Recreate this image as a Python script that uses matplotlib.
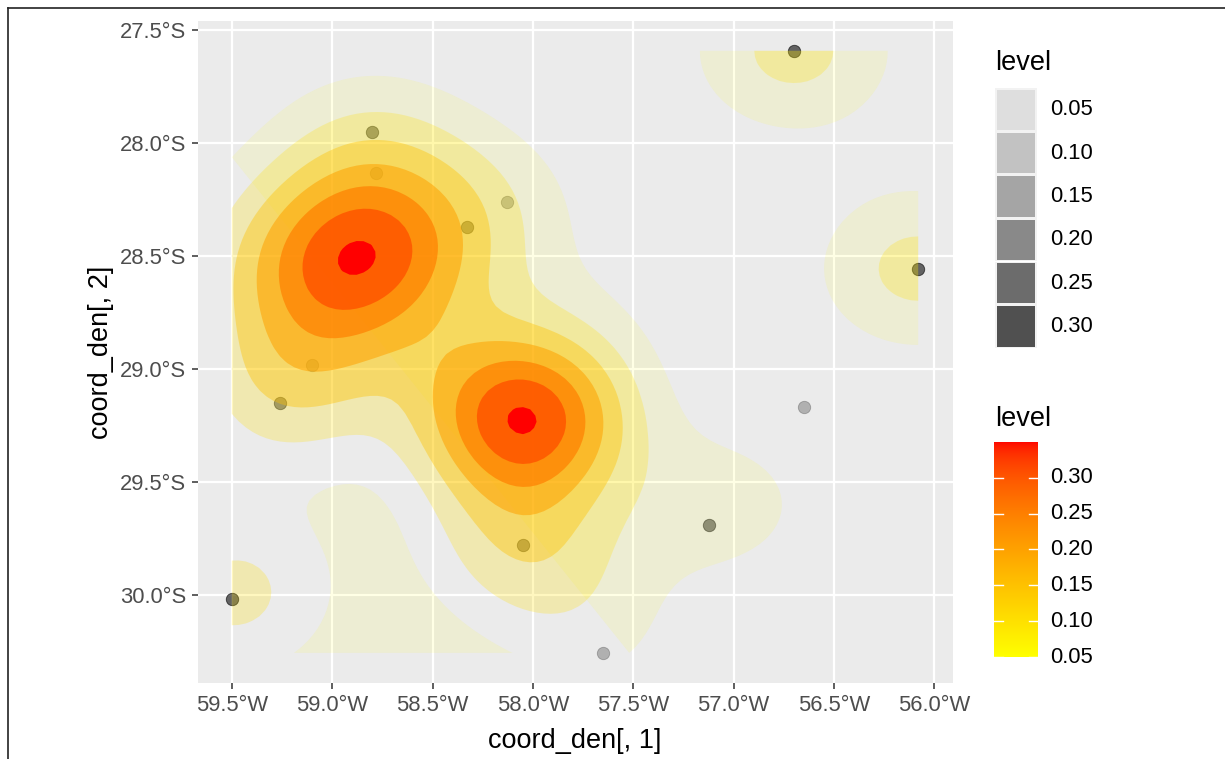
import numpy as np
import matplotlib
matplotlib.use("Agg")
import matplotlib.pyplot as plt
from matplotlib.patches import Rectangle
from matplotlib.lines import Line2D
import contourpy

plt.rcParams['font.family'] = ['Liberation Sans', 'DejaVu Sans']

# ---------------- data ----------------
# plotted sample points (lon, lat, number of overlapping records)
pt_lon = [-56.70, -58.80, -58.78, -58.13, -58.33, -56.08, -59.10, -59.26, -56.65, -57.12, -58.05, -59.50, -57.65]
pt_lat = [-27.59, -27.95, -28.13, -28.26, -28.37, -28.555, -28.98, -29.15, -29.17, -29.69, -29.78, -30.02, -30.257]
pt_n = [3, 2, 1, 1, 2, 3, 1, 2, 1, 2, 2, 3, 1]

# density input coordinates (coord_den) and their record counts
den_lon = [-59.35, -58.88, -58.41, -59.35, -58.88, -58.41, -59.35, -58.88, -58.41,
           -58.80, -58.13, -59.10, -59.26, -59.38, -57.65,
           -58.05, -58.05, -58.05, -58.21, -57.89,
           -58.05, -57.05, -57.70, -56.70, -56.08, -59.50]
den_lat = [-28.18, -28.18, -28.18, -28.50, -28.50, -28.50, -28.82, -28.82, -28.82,
           -27.95, -28.26, -28.98, -29.15, -29.72, -28.75,
           -29.21, -28.98, -29.44, -29.21, -29.21,
           -29.81, -29.60, -30.18, -27.59, -28.555, -30.02]
den_w = [0.15, 1.00, 0.70, 1.00, 4.32, 1.00, 0.70, 1.00, 0.15,
         1.0, 0.6, 0.8, 1.5, 0.3, 0.35,
         5.13, 0.5, 0.8, 0.25, 0.25,
         2.1, 1.3, 0.9, 2.2, 2.2, 2.0]

bandwidth_lon = 1.44   # kde2d-style h (kernel sd = h / 4)
bandwidth_lat = 1.04
levels = [0.05, 0.10, 0.15, 0.20, 0.25, 0.30, 0.35]
legend_breaks = [0.05, 0.10, 0.15, 0.20, 0.25, 0.30]
x_ticks = [-59.5, -59.0, -58.5, -58.0, -57.5, -57.0, -56.5, -56.0]
y_ticks = [-30.0, -29.5, -29.0, -28.5, -28.0, -27.5]

# ---------------- colour helpers (Lab interpolation like ggplot) ----------------
M = np.array([[0.4124564, 0.3575761, 0.1804375],
              [0.2126729, 0.7151522, 0.0721750],
              [0.0193339, 0.1191920, 0.9503041]])
WP = np.array([0.95047, 1.0, 1.08883])


def srgb_to_lab(rgb):
    rgb = np.asarray(rgb, float)
    lin = np.where(rgb <= 0.04045, rgb / 12.92, ((rgb + 0.055) / 1.055) ** 2.4)
    t = (M @ lin) / WP
    d = 6 / 29
    f = np.where(t > d ** 3, np.cbrt(t), t / (3 * d * d) + 4 / 29)
    return np.array([116 * f[1] - 16, 500 * (f[0] - f[1]), 200 * (f[1] - f[2])])


def lab_to_srgb(lab):
    L, a, b = lab
    fy = (L + 16) / 116
    fx = fy + a / 500
    fz = fy - b / 200
    d = 6 / 29
    f = np.array([fx, fy, fz])
    t = np.where(f > d, f ** 3, 3 * d * d * (f - 4 / 29)) * WP
    lin = np.linalg.solve(M, t)
    lin = np.clip(lin, 0, 1)
    rgb = np.where(lin <= 0.0031308, 12.92 * lin, 1.055 * lin ** (1 / 2.4) - 0.055)
    return np.clip(rgb, 0, 1)


LAB_LO = srgb_to_lab([1.0, 1.0, 0.0])
LAB_HI = srgb_to_lab([1.0, 0.0, 0.0])
LO, HI = min(levels), max(levels)


def fill_color(v):
    t = (v - LO) / (HI - LO)
    return tuple(lab_to_srgb(LAB_LO + t * (LAB_HI - LAB_LO)))


def alpha_of(v):
    return float(np.clip(0.1 + 0.9 * (v - LO) / (HI - LO), 0, 1))


# ---------------- density ----------------
all_x = np.concatenate([pt_lon, den_lon])
all_y = np.concatenate([pt_lat, den_lat])
gx = np.linspace(all_x.min(), all_x.max(), 100)
gy = np.linspace(all_y.min(), all_y.max(), 100)
sx, sy = bandwidth_lon / 4, bandwidth_lat / 4
wts = np.array(den_w) / np.sum(den_w)
Z = np.zeros((gy.size, gx.size))
for xi, yi, wi in zip(den_lon, den_lat, wts):
    kx = np.exp(-0.5 * ((gx - xi) / sx) ** 2) / (sx * np.sqrt(2 * np.pi))
    ky = np.exp(-0.5 * ((gy - yi) / sy) ** 2) / (sy * np.sqrt(2 * np.pi))
    Z += wi * ky[:, None] * kx[None, :]

# ---------------- figure ----------------
W, H = 1225, 759
fig = plt.figure(figsize=(W / 100, H / 100), dpi=100)
fig.patch.set_facecolor('white')

xr = all_x.max() - all_x.min()
yr = all_y.max() - all_y.min()
xlim = (all_x.min() - 0.05 * xr, all_x.max() + 0.05 * xr)
ylim = (all_y.min() - 0.05 * yr, all_y.max() + 0.05 * yr)

ax = fig.add_axes([197.5 / W, (H - 683) / H, 755 / W, 662.3 / H])
ax.set_facecolor('#ebebeb')
for s in ax.spines.values():
    s.set_visible(False)
ax.set_xlim(*xlim)
ax.set_ylim(*ylim)
ax.set_xticks(x_ticks)
ax.set_yticks(y_ticks)
ax.set_xticklabels([f"{abs(v):.1f}\u00b0W" for v in x_ticks])
ax.set_yticklabels([f"{abs(v):.1f}\u00b0S" for v in y_ticks])
ax.grid(True, color='white', linewidth=1.65, zorder=0)
ax.set_axisbelow(True)
ax.tick_params(length=4.3, width=1.1, color='#333333', labelcolor='#4d4d4d',
               labelsize=15.8, pad=4)

# points (under the density polygons)
for x, y, n in zip(pt_lon, pt_lat, pt_n):
    for _ in range(n):
        ax.scatter([x], [y], s=80, color='black', alpha=0.25, edgecolor='black',
                   linewidth=0.6, zorder=2)

# density polygons: every iso-line closed as a polygon
gen = contourpy.contour_generator(gx, gy, Z, line_type=contourpy.LineType.Separate)
for L in levels:
    for ln in gen.lines(L):
        ax.fill(ln[:, 0], ln[:, 1], facecolor=fill_color(L), alpha=alpha_of(L),
                linewidth=0, zorder=3)

fig.text(575 / W, 1 - 741 / H, "coord_den[, 1]", ha='center', va='center', fontsize=19.5)
fig.text(101 / W, 1 - 352 / H, "coord_den[, 2]", ha='center', va='center', fontsize=19.5,
         rotation=90)

# ---------------- alpha legend ----------------
fig.text(995 / W, 1 - 63 / H, "level", ha='left', va='center', fontsize=19.5)
key_top, key_h, key_x, key_w = 88.3, 43.3, 995, 41.5
for i, v in enumerate(legend_breaks):
    top = key_top + i * key_h
    fig.patches.append(Rectangle((key_x / W, 1 - (top + key_h) / H), key_w / W, key_h / H,
                                 transform=fig.transFigure, facecolor='#f2f2f2',
                                 edgecolor='none'))
    fig.patches.append(Rectangle(((key_x + 1.5) / W, 1 - (top + key_h - 1.5) / H),
                                 (key_w - 3) / W, (key_h - 3) / H,
                                 transform=fig.transFigure, facecolor='#333333',
                                 alpha=alpha_of(v), edgecolor='none'))
    fig.text(1050 / W, 1 - (top + key_h / 2) / H, f"{v:.2f}", ha='left', va='center',
             fontsize=15.8)

# ---------------- fill colourbar ----------------
fig.text(995 / W, 1 - 419 / H, "level", ha='left', va='center', fontsize=19.5)
cb_top, cb_bot, cb_x, cb_w = 441.7, 657.3, 994.3, 43.4
cax = fig.add_axes([cb_x / W, 1 - cb_bot / H, cb_w / W, (cb_bot - cb_top) / H])
vals = np.linspace(LO, HI, 300)
grad = np.array([fill_color(v) for v in vals])[:, None, :]
cax.imshow(grad, aspect='auto', origin='lower', extent=(0, 1, LO, HI))
cax.set_xlim(0, 1)
cax.set_ylim(LO, HI)
cax.set_axis_off()
for v in legend_breaks:
    cax.plot([0, 0.2], [v, v], color='white', lw=1.0)
    cax.plot([0.8, 1.0], [v, v], color='white', lw=1.0)
    ypx = cb_bot - (v - LO) / (HI - LO) * (cb_bot - cb_top)
    fig.text(1050 / W, 1 - ypx / H, f"{v:.2f}", ha='left', va='center', fontsize=15.8)

# ---------------- outer frame (left + top) ----------------
fig.lines.append(Line2D([7.5 / W, 7.5 / W], [0, 1 - 7.5 / H], transform=fig.transFigure,
                        color='#222222', lw=1.2))
fig.lines.append(Line2D([7.5 / W, 1], [1 - 7.5 / H, 1 - 7.5 / H], transform=fig.transFigure,
                        color='#222222', lw=1.2))

fig.savefig("out.png", dpi=100)
